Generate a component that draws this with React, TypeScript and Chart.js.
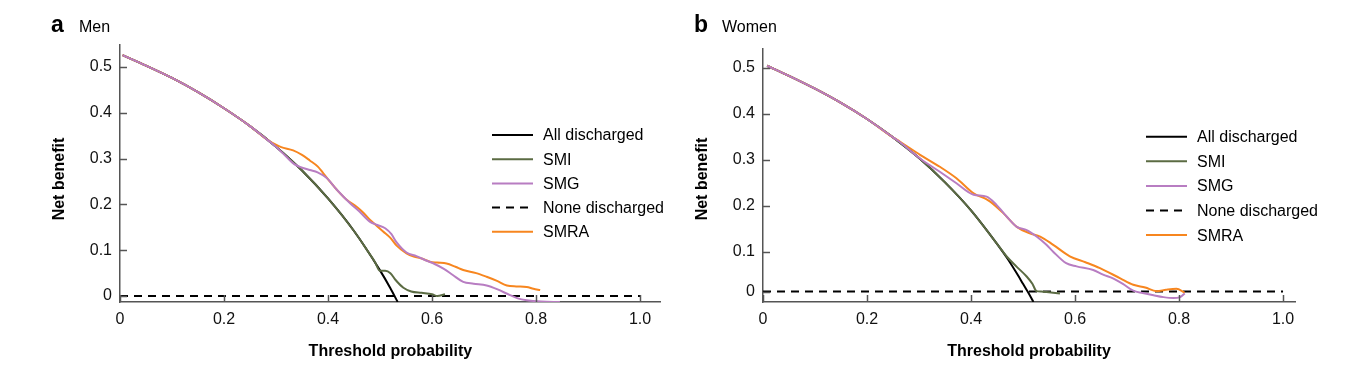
import React, { useEffect, useRef } from "react";
import { Chart, registerables } from "chart.js";

Chart.register(...registerables);

const FONT = "'Liberation Sans', Arial, sans-serif";
const AXIS_COLOR = "#555555";
const TEXT_COLOR = "#111111";

const X_TICKS = [0, 0.2, 0.4, 0.6, 0.8, 1.0];
const X_TICK_LABELS = ["0", "0.2", "0.4", "0.6", "0.8", "1.0"];
const Y_TICK_LABELS = ["0", "0.1", "0.2", "0.3", "0.4", "0.5"];
const MEN_Y_TICKS = [0, 0.1, 0.2, 0.3, 0.4, 0.5];
const WOMEN_Y_TICKS = [0.013, 0.1, 0.2, 0.3, 0.4, 0.5];

const LEGEND_LABELS = ["All discharged", "SMI", "SMG", "None discharged", "SMRA"];
const SERIES_COLORS = ["#000000", "#5b6b43", "#b87dc2", "#000000", "#f7861f"];

// ---------- Men ----------
const MEN_ALL_X = [0.005, 0.05, 0.1, 0.15, 0.2, 0.25, 0.3, 0.35, 0.4, 0.45, 0.5, 0.52, 0.534];
const MEN_ALL_Y = [0.526, 0.503, 0.476, 0.445, 0.41, 0.371, 0.326, 0.274, 0.213, 0.142, 0.056, 0.017, -0.013];

const MEN_SMI_X = [0.005, 0.05, 0.1, 0.15, 0.2, 0.25, 0.3, 0.35, 0.4, 0.45, 0.48, 0.49, 0.5, 0.51, 0.52, 0.53, 0.545, 0.56, 0.58, 0.6, 0.61, 0.625];
const MEN_SMI_Y = [0.526, 0.503, 0.476, 0.445, 0.41, 0.371, 0.326, 0.274, 0.213, 0.142, 0.092, 0.075, 0.055, 0.055, 0.05, 0.035, 0.018, 0.01, 0.007, 0.004, 0.0, 0.004];

const MEN_SMG_X = [0.005, 0.05, 0.1, 0.15, 0.2, 0.25, 0.28, 0.3, 0.32, 0.335, 0.346, 0.365, 0.38, 0.397, 0.417, 0.442, 0.46, 0.481, 0.495, 0.51, 0.522, 0.532, 0.551, 0.57, 0.59, 0.605, 0.622, 0.64, 0.66, 0.68, 0.705, 0.725, 0.75, 0.765, 0.782, 0.81, 0.846];
const MEN_SMG_Y = [0.526, 0.503, 0.476, 0.445, 0.41, 0.371, 0.344, 0.326, 0.304, 0.288, 0.282, 0.275, 0.27, 0.258, 0.232, 0.203, 0.185, 0.162, 0.155, 0.148, 0.135, 0.117, 0.095, 0.087, 0.077, 0.07, 0.06, 0.046, 0.031, 0.027, 0.023, 0.015, 0.002, -0.005, -0.009, -0.012, -0.013];

const MEN_SMRA_X = [0.005, 0.05, 0.1, 0.15, 0.2, 0.25, 0.28, 0.295, 0.31, 0.333, 0.35, 0.365, 0.38, 0.391, 0.405, 0.417, 0.436, 0.455, 0.468, 0.481, 0.495, 0.506, 0.52, 0.532, 0.551, 0.565, 0.58, 0.596, 0.61, 0.628, 0.645, 0.66, 0.685, 0.705, 0.725, 0.744, 0.762, 0.782, 0.795, 0.808];
const MEN_SMRA_Y = [0.526, 0.503, 0.476, 0.445, 0.41, 0.371, 0.344, 0.333, 0.325, 0.318, 0.308, 0.296, 0.283, 0.268, 0.248, 0.232, 0.21, 0.195, 0.182, 0.166, 0.152, 0.141, 0.127, 0.11, 0.093, 0.086, 0.082, 0.075, 0.073, 0.071, 0.064, 0.057, 0.05, 0.042, 0.033, 0.023, 0.021, 0.02, 0.016, 0.013];

const MEN_NONE_X = [0, 1.0];
const MEN_NONE_Y = [0, 0];

// ---------- Women ----------
const WOMEN_ALL_X = [0.008, 0.05, 0.1, 0.15, 0.2, 0.25, 0.3, 0.35, 0.4, 0.45, 0.47, 0.49, 0.5, 0.51, 0.52];
const WOMEN_ALL_Y = [0.505, 0.483, 0.455, 0.424, 0.389, 0.349, 0.304, 0.251, 0.19, 0.117, 0.085, 0.049, 0.03, 0.011, -0.0096];

const WOMEN_SMI_X = [0.008, 0.05, 0.1, 0.15, 0.2, 0.25, 0.3, 0.35, 0.4, 0.45, 0.469, 0.488, 0.507, 0.518, 0.526, 0.535, 0.545, 0.571];
const WOMEN_SMI_Y = [0.505, 0.483, 0.455, 0.424, 0.389, 0.349, 0.304, 0.251, 0.19, 0.117, 0.089, 0.067, 0.046, 0.03, 0.014, 0.013, 0.012, 0.009];

const WOMEN_SMG_X = [0.008, 0.05, 0.1, 0.15, 0.2, 0.25, 0.263, 0.302, 0.34, 0.372, 0.405, 0.43, 0.449, 0.469, 0.488, 0.507, 0.526, 0.545, 0.558, 0.583, 0.603, 0.635, 0.654, 0.673, 0.692, 0.712, 0.73, 0.751, 0.77, 0.789, 0.802, 0.811];
const WOMEN_SMG_Y = [0.505, 0.483, 0.455, 0.424, 0.389, 0.349, 0.339, 0.303, 0.274, 0.249, 0.224, 0.22, 0.202, 0.176, 0.154, 0.147, 0.133, 0.115, 0.1, 0.075, 0.068, 0.06, 0.05, 0.042, 0.03, 0.015, 0.01, 0.005, 0.001, -0.001, 0.001, 0.009];

const WOMEN_SMRA_X = [0.008, 0.05, 0.1, 0.15, 0.2, 0.25, 0.263, 0.302, 0.34, 0.372, 0.405, 0.43, 0.437, 0.462, 0.488, 0.513, 0.533, 0.558, 0.59, 0.62, 0.648, 0.687, 0.712, 0.735, 0.757, 0.775, 0.795, 0.811];
const WOMEN_SMRA_Y = [0.505, 0.483, 0.455, 0.424, 0.389, 0.349, 0.34, 0.311, 0.285, 0.26, 0.227, 0.214, 0.209, 0.184, 0.154, 0.14, 0.133, 0.115, 0.09, 0.077, 0.064, 0.042, 0.028, 0.022, 0.014, 0.017, 0.019, 0.011];

const WOMEN_NONE_X = [0, 1.0];
const WOMEN_NONE_Y = [0.013, 0.013];

const zip = (xs: number[], ys: number[]) => xs.map((x, i) => ({ x, y: ys[i] }));

type PanelCfg = {
  letter: string;
  title: string;
  width: number;
  left: number;
  caLeft: number;
  padRight: number;
  padTop: number;
  xMax: number;
  yMin: number;
  yMax: number;
  yTicks: number[];
  legendX: number;
  legendY: number;
  legendStep: number;
  series: { x: number[]; y: number[] }[];
};

const HEIGHT = 359;

const decorPlugin = {
  id: "decor",
  afterDraw(chart: any, _args: any, opts: any) {
    const { ctx, chartArea: ca, scales } = chart;
    const xs = scales.x;
    const ys = scales.y;
    ctx.save();
    // inward ticks
    ctx.strokeStyle = AXIS_COLOR;
    ctx.lineWidth = 1.5;
    for (const v of X_TICKS) {
      const px = Math.round(xs.getPixelForValue(v)) + 0.5;
      ctx.beginPath();
      ctx.moveTo(px, ca.bottom);
      ctx.lineTo(px, ca.bottom - 7);
      ctx.stroke();
    }
    for (const v of opts.yTicks) {
      const py = Math.round(ys.getPixelForValue(v)) + 0.5;
      ctx.beginPath();
      ctx.moveTo(ca.left, py);
      ctx.lineTo(ca.left + 7, py);
      ctx.stroke();
    }
    // panel letter + title
    ctx.fillStyle = "#000";
    ctx.textAlign = "left";
    ctx.textBaseline = "alphabetic";
    ctx.font = `bold 23px ${FONT}`;
    ctx.fillText(opts.letter, ca.left - 69, 24);
    ctx.font = `16px ${FONT}`;
    ctx.fillText(opts.title, ca.left - 41, 24);
    // axis titles
    ctx.font = `bold 16px ${FONT}`;
    ctx.textAlign = "center";
    ctx.textBaseline = "middle";
    ctx.fillText("Threshold probability", (ca.left + ca.right) / 2, ca.bottom + 50);
    ctx.save();
    ctx.translate(ca.left - 60, 171);
    ctx.rotate(-Math.PI / 2);
    ctx.fillText("Net benefit", 0, 0);
    ctx.restore();
    // legend
    const ds = chart.data.datasets;
    ctx.font = `16px ${FONT}`;
    ctx.textAlign = "left";
    ctx.textBaseline = "middle";
    ds.forEach((d: any, i: number) => {
      const y = opts.legendY + i * opts.legendStep;
      ctx.strokeStyle = d.borderColor;
      ctx.lineWidth = 2;
      ctx.setLineDash(d.borderDash || []);
      ctx.beginPath();
      ctx.moveTo(opts.legendX, y);
      ctx.lineTo(opts.legendX + 41, y);
      ctx.stroke();
      ctx.setLineDash([]);
      ctx.fillStyle = "#000";
      ctx.fillText(d.label, opts.legendX + 51, y + 1);
    });
    ctx.restore();
  },
};

function Panel({ cfg }: { cfg: PanelCfg }) {
  const ref = useRef<HTMLCanvasElement | null>(null);
  useEffect(() => {
    if (!ref.current) return;
    // lower order = drawn on top: SMG on top, then SMRA, SMI, All discharged, None
    const drawOrder = [3, 2, 0, 4, 1];
    const datasets = cfg.series.map((s, i) => ({
      label: LEGEND_LABELS[i],
      data: zip(s.x, s.y),
      borderColor: SERIES_COLORS[i],
      backgroundColor: SERIES_COLORS[i],
      borderWidth: 2,
      borderDash: i === 3 ? [8, 6] : [],
      pointRadius: 0,
      fill: false,
      cubicInterpolationMode: "monotone" as const,
      order: drawOrder[i],
    }));
    const chart = new Chart(ref.current, {
      type: "line",
      data: { datasets },
      plugins: [decorPlugin],
      options: {
        responsive: false,
        animation: false,
        devicePixelRatio: 1,
        layout: { padding: { left: 0, right: cfg.padRight, top: cfg.padTop, bottom: 0 } },
        plugins: {
          legend: { display: false },
          tooltip: { enabled: false },
          decor: {
            letter: cfg.letter,
            title: cfg.title,
            yTicks: cfg.yTicks,
            legendX: cfg.legendX,
            legendY: cfg.legendY,
            legendStep: cfg.legendStep,
          },
        } as any,
        scales: {
          x: {
            type: "linear",
            min: 0,
            max: cfg.xMax,
            grid: { display: false, drawTicks: false },
            border: { display: true, color: AXIS_COLOR, width: 1.5 },
            afterBuildTicks: (s: any) => {
              s.ticks = X_TICKS.map((v) => ({ value: v }));
            },
            afterFit: (s: any) => {
              s.height = 65;
            },
            ticks: {
              autoSkip: false,
              maxRotation: 0,
              padding: 8,
              color: TEXT_COLOR,
              font: { family: FONT, size: 16 },
              callback: (_v: any, i: number) => X_TICK_LABELS[i],
            },
          },
          y: {
            type: "linear",
            min: cfg.yMin,
            max: cfg.yMax,
            grid: { display: false, drawTicks: false },
            border: { display: true, color: AXIS_COLOR, width: 1.5 },
            afterBuildTicks: (s: any) => {
              s.ticks = cfg.yTicks.map((v) => ({ value: v }));
            },
            afterFit: (s: any) => {
              s.width = cfg.caLeft;
            },
            ticks: {
              autoSkip: false,
              padding: 8,
              color: TEXT_COLOR,
              font: { family: FONT, size: 16 },
              callback: (_v: any, i: number) => Y_TICK_LABELS[i],
            },
          },
        },
      } as any,
    });
    return () => chart.destroy();
  }, [cfg]);
  return (
    <canvas
      ref={ref}
      width={cfg.width}
      height={HEIGHT}
      style={{ position: "absolute", left: cfg.left, top: 0, width: cfg.width, height: HEIGHT, display: "block" }}
    />
  );
}

const MEN_CFG: PanelCfg = {
  letter: "a",
  title: "Men",
  width: 666,
  left: 0,
  caLeft: 112,
  padRight: 13.2,
  padTop: 37,
  xMax: 1.04,
  yMin: -0.013,
  yMax: 0.548,
  yTicks: MEN_Y_TICKS,
  legendX: 484,
  legendY: 127,
  legendStep: 24.2,
  series: [
    { x: MEN_ALL_X, y: MEN_ALL_Y },
    { x: MEN_SMI_X, y: MEN_SMI_Y },
    { x: MEN_SMG_X, y: MEN_SMG_Y },
    { x: MEN_NONE_X, y: MEN_NONE_Y },
    { x: MEN_SMRA_X, y: MEN_SMRA_Y },
  ],
};

const WOMEN_CFG: PanelCfg = {
  letter: "b",
  title: "Women",
  width: 667,
  left: 666,
  caLeft: 89,
  padRight: 46,
  padTop: 40.3,
  xMax: 1.023,
  yMin: -0.0096,
  yMax: 0.543,
  yTicks: WOMEN_Y_TICKS,
  legendX: 472,
  legendY: 128.7,
  legendStep: 24.6,
  series: [
    { x: WOMEN_ALL_X, y: WOMEN_ALL_Y },
    { x: WOMEN_SMI_X, y: WOMEN_SMI_Y },
    { x: WOMEN_SMG_X, y: WOMEN_SMG_Y },
    { x: WOMEN_NONE_X, y: WOMEN_NONE_Y },
    { x: WOMEN_SMRA_X, y: WOMEN_SMRA_Y },
  ],
};

export default function App() {
  return (
    <div style={{ position: "relative", width: 1333, height: HEIGHT, background: "#fff" }}>
      <Panel cfg={MEN_CFG} />
      <Panel cfg={WOMEN_CFG} />
    </div>
  );
}
